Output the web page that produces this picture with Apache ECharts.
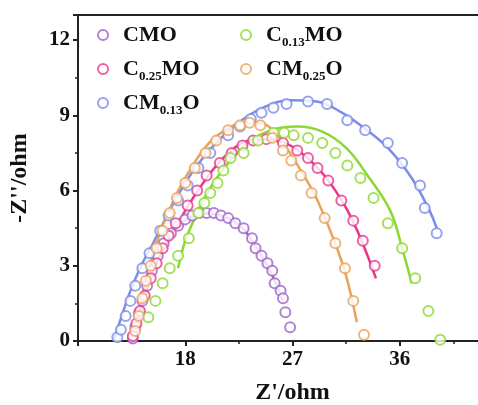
<!DOCTYPE html>
<html>
<head>
<meta charset="utf-8">
<script src="https://cdn.jsdelivr.net/npm/echarts@6/dist/echarts.min.js"></script>
<style>
  html, body { margin: 0; padding: 0; background: #fff; }
  #chart { width: 478px; height: 405px; }
</style>
</head>
<body>
<div id="chart"></div>
<script>
// series names (legend order: left column, right column)
var names = ['CMO', 'C0.25MO', 'CM0.13O', 'C0.13MO', 'CM0.25O'];
var colors = ['#a064c8', '#e8388c', '#7d8ce6', '#8cd832', '#e8a45c'];

// measured points  [Z', -Z'']
var cmoPts = [[13.6,0.1],[13.8,0.55],[14.1,1.1],[14.4,1.6],[14.8,2.2],[15.2,2.8],[15.7,3.4],[16.2,3.9],[16.8,4.3],[17.4,4.6],[18.0,4.85],[18.6,5.0],[19.2,5.1],[19.8,5.1],[20.4,5.1],[21.0,5.0],[21.6,4.9],[22.2,4.7],[22.9,4.5],[23.6,4.1],[23.9,3.7],[24.4,3.4],[24.9,3.1],[25.3,2.8],[25.5,2.3],[26.0,2.0],[26.2,1.7],[26.4,1.15],[26.8,0.55]];
var c25Pts = [[13.6,0.2],[13.9,0.7],[14.2,1.2],[14.6,1.8],[15.1,2.5],[15.6,3.1],[16.1,3.7],[16.6,4.2],[17.2,4.7],[18.2,5.4],[19.0,6.0],[19.8,6.6],[20.9,7.1],[21.9,7.5],[22.8,7.8],[23.7,8.0],[24.8,8.05],[26.2,7.9],[27.4,7.6],[28.3,7.3],[29.1,6.9],[30.0,6.4],[31.1,5.6],[32.1,4.8],[32.9,4.0],[33.9,3.0]];
var m13Pts = [[12.3,0.15],[12.6,0.45],[13.0,1.0],[13.4,1.6],[13.8,2.2],[14.4,2.9],[15.0,3.5],[15.9,4.4],[16.6,5.0],[17.4,5.6],[18.2,6.2],[19.1,6.9],[20.1,7.5],[21.6,8.2],[22.6,8.55],[23.5,8.85],[24.4,9.1],[25.4,9.3],[26.5,9.45],[28.3,9.55],[29.9,9.45],[31.6,8.8],[33.1,8.4],[35.0,7.9],[36.2,7.1],[37.7,6.2],[38.1,5.3],[39.1,4.3]];
var c13Pts = [[14.9,0.95],[15.5,1.6],[16.1,2.3],[16.7,2.9],[17.4,3.4],[18.3,4.1],[19.1,5.1],[19.6,5.5],[20.1,5.9],[20.7,6.3],[21.2,6.8],[21.8,7.3],[22.9,7.5],[24.1,8.0],[25.4,8.3],[26.3,8.3],[27.1,8.2],[28.3,8.1],[29.5,7.9],[30.6,7.5],[31.6,7.0],[32.7,6.5],[33.8,5.7],[35.0,4.7],[36.2,3.7],[37.3,2.5],[38.4,1.2],[39.4,0.05]];
var m25Pts = [[13.8,0.4],[14.1,1.0],[14.4,1.7],[14.7,2.4],[15.1,3.0],[15.6,3.7],[16.1,4.4],[16.7,5.1],[17.3,5.7],[18.0,6.3],[18.8,6.9],[19.7,7.5],[20.6,8.0],[21.6,8.4],[22.6,8.6],[23.4,8.7],[24.3,8.6],[25.3,8.1],[26.2,7.6],[26.9,7.2],[27.7,6.6],[28.6,5.9],[29.7,4.9],[30.6,3.9],[31.4,2.9],[32.1,1.6],[33.0,0.25]];

// fitted curves
var cmoFit = [[16.6,4.2],[17.5,4.65],[18.5,4.95],[19.8,5.08],[21,5.0],[22,4.8],[23,4.4],[24,3.7],[25,2.9],[25.6,2.3],[26.2,1.6]];
var c25Fit = [[13.5,0.0],[14.5,1.6],[15.5,3.0],[16.5,3.95],[18,5.2],[19.5,6.3],[21,7.2],[22.6,7.85],[24,8.05],[26,7.95],[28,7.4],[30,6.4],[32,4.85],[34,2.5]];
var m13Fit = [[12.0,0],[12.6,0.9],[13.4,2.0],[14.3,3.0],[15.3,3.9],[16.8,5.3],[18.4,6.6],[20.4,7.8],[22.6,8.75],[24.5,9.3],[26.8,9.6],[29,9.55],[31,9.15],[33,8.5],[35,7.7],[37,6.5],[38.5,5.2],[39.1,4.5]];
var c13Fit = [[17.4,2.9],[18.0,4.0],[18.7,4.8],[19.5,5.6],[20.5,6.4],[21.8,7.2],[23.5,8.0],[25.5,8.45],[27.4,8.55],[29.5,8.35],[31.5,7.7],[33.3,6.6],[35.2,5.2],[36.2,3.7],[37.0,2.3]];
var m25Fit = [[13.7,0.0],[14.5,2.0],[15.5,3.8],[17,5.6],[18.5,6.9],[20,7.9],[21.5,8.45],[23,8.72],[24.2,8.7],[25.4,8.4],[26.5,7.7],[28.2,6.4],[29.1,5.6],[30.5,4.0],[31.5,2.6],[32.4,0.75]];

var pts = [cmoPts, c25Pts, m13Pts, c13Pts, m25Pts];
var fits = [cmoFit, c25Fit, m13Fit, c13Fit, m25Fit];

var serif = 'Liberation Serif';

function subName(name) {
  return name.replace(/(\d\.\d+)/, '{s|$1}');
}

var legendText = {
  fontFamily: serif,
  fontWeight: 'bold',
  fontSize: 22,
  color: '#111',
  lineHeight: 28,
  rich: {
    s: { fontFamily: serif, fontWeight: 'bold', fontSize: 13, lineHeight: 13, verticalAlign: 'bottom', color: '#111' }
  }
};

var series = [];
for (var i = 0; i < names.length; i++) {
  series.push({
    name: names[i] + ' fit',
    type: 'line',
    data: fits[i],
    smooth: 0.4,
    showSymbol: false,
    lineStyle: { color: colors[i], width: 2.5 },
    z: 2
  });
}
for (var j = 0; j < names.length; j++) {
  series.push({
    name: names[j],
    type: 'scatter',
    data: pts[j],
    symbol: 'emptyCircle',
    symbolSize: 10,
    itemStyle: { color: colors[j], borderColor: colors[j], borderWidth: 1.6 },
    z: 3
  });
}

var option = {
  animation: false,
  backgroundColor: '#fff',
  grid: {
    left: 78, right: -29, top: 15, bottom: 64,
    outerBoundsMode: 'none',
    containLabel: false,
    show: true, borderColor: '#222', borderWidth: 2
  },
  legend: [
    {
      data: names.slice(0, 3),
      orient: 'vertical',
      left: 92, top: 16,
      itemWidth: 30, itemHeight: 10, itemGap: 6,
      formatter: subName,
      textStyle: legendText
    },
    {
      data: names.slice(3),
      orient: 'vertical',
      left: 235, top: 16,
      itemWidth: 30, itemHeight: 10, itemGap: 6,
      formatter: subName,
      textStyle: legendText
    }
  ],
  xAxis: {
    type: 'value',
    min: 9, max: 45, interval: 9,
    name: "Z'/ohm",
    nameLocation: 'middle',
    nameGap: 40,
    nameTextStyle: { fontFamily: serif, fontWeight: 'bold', fontSize: 24, color: '#111' },
    axisLine: { lineStyle: { color: '#222', width: 2 } },
    axisTick: { inside: false, length: 5, lineStyle: { width: 2 } },
    minorTick: { show: true, splitNumber: 2, length: 3, lineStyle: { color: '#222', width: 1.5 } },
    splitLine: { show: false },
    axisLabel: { showMinLabel: false, margin: 8, fontFamily: serif, fontWeight: 'bold', fontSize: 21, color: '#111' }
  },
  yAxis: {
    type: 'value',
    min: 0, max: 13, interval: 3,
    name: "-Z''/ohm",
    nameLocation: 'middle',
    nameGap: 46,
    nameRotate: 90,
    nameTextStyle: { fontFamily: serif, fontWeight: 'bold', fontSize: 24, color: '#111' },
    axisLine: { lineStyle: { color: '#222', width: 2 } },
    axisTick: { inside: false, length: 5, lineStyle: { width: 2 } },
    minorTick: { show: true, splitNumber: 2, length: 3, lineStyle: { color: '#222', width: 1.5 } },
    splitLine: { show: false },
    axisLabel: { showMaxLabel: false, margin: 8, fontFamily: serif, fontWeight: 'bold', fontSize: 21, color: '#111' }
  },
  series: series
};

var chart = echarts.init(document.getElementById('chart'));
chart.setOption(option);
</script>
</body>
</html>
